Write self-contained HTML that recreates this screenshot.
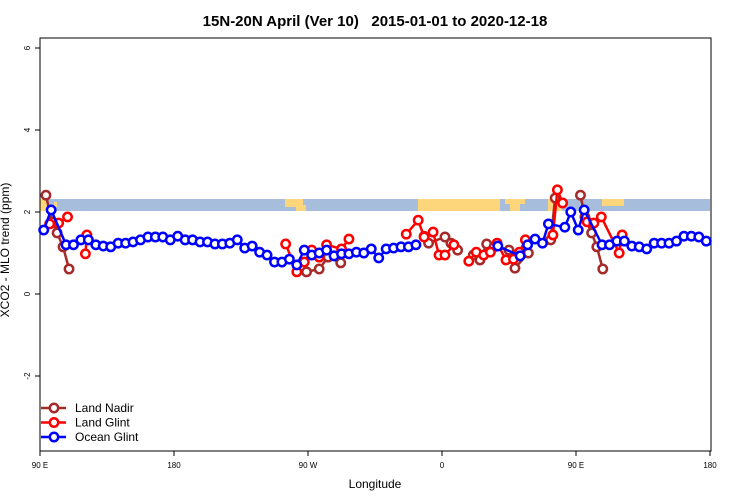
<!DOCTYPE html>
<html><head><meta charset="utf-8"><style>
body{margin:0;background:#fff}
svg{display:block;font-family:"Liberation Sans",sans-serif}
</style></head><body>
<svg id="chart" width="750" height="500">
<text x="375" y="26" text-anchor="middle" font-size="15" font-weight="bold" style="white-space:pre">15N-20N April (Ver 10)   2015-01-01 to 2020-12-18</text>
<g id="band">
<rect x="40" y="199" width="670" height="12" fill="#a6bddb"/>
<rect x="40" y="199" width="8" height="12" fill="#fdd57a"/>
<rect x="54" y="202" width="3" height="5" fill="#fdd57a"/>
<rect x="285" y="199" width="18" height="8" fill="#fdd57a"/>
<rect x="296" y="205" width="10" height="6" fill="#fdd57a"/>
<rect x="418" y="199" width="82" height="12" fill="#fdd57a"/>
<rect x="505" y="199" width="20" height="5" fill="#fdd57a"/>
<rect x="510" y="204" width="10" height="7" fill="#fdd57a"/>
<rect x="548" y="199" width="14" height="12" fill="#fdd57a"/>
<rect x="602" y="199" width="22" height="7" fill="#fdd57a"/>
</g>
<rect x="40" y="38" width="671" height="413" fill="none" stroke="#000" stroke-width="1"/>
<g id="axes"></g>
<g id="marks"></g>
<text x="375" y="488" text-anchor="middle" font-size="12">Longitude</text>
<text transform="translate(9,250) rotate(-90)" text-anchor="middle" font-size="12">XCO2 - MLO trend (ppm)</text>
<g id="legend"></g>
</svg>
<script>
const xTicks=[90,180,270,360,450,540];
const xTickLabels=["90 E","180","90 W","0","90 E","180"];
const yTicks=[6,4,2,0,-2];
// null value = line break
const oceanLon=[92.5,97.5,107.5,112.5,117.5,122.5,127.5,132.5,137.5,142.5,147.5,152.5,157.5,162.5,167.5,172.5,177.5,182.5,187.5,192.5,197.5,202.5,207.5,212.5,217.5,222.5,227.5,232.5,237.5,242.5,247.5,252.5,257.5,262.5,267.5,272.5,277.5,282.5,287.5,292.5,297.5,302.5,307.5,312.5,317.5,322.5,327.5,332.5,337.5,342.5,null,397.5,412.5,417.5,422.5,427.5,431.5,442.5,446.5,451.5,455.5,467.5,472.5,477.5,482.5,487.5,492.5,497.5,502.5,507.5,512.5,517.5,522.5,527.5,532.5,537.5];
const oceanVal=[1.56,2.05,1.2,1.2,1.32,1.32,1.2,1.17,1.15,1.24,1.24,1.27,1.32,1.39,1.39,1.39,1.32,1.41,1.32,1.32,1.27,1.27,1.22,1.22,1.24,1.32,1.12,1.17,1.02,0.95,0.78,0.78,0.85,0.71,1.07,0.95,1.0,1.07,0.93,0.98,0.98,1.02,1.0,1.1,0.88,1.1,1.12,1.15,1.15,1.2,null,1.17,0.93,1.2,1.34,1.24,1.71,1.63,2.0,1.56,2.05,1.2,1.2,1.29,1.29,1.17,1.15,1.1,1.24,1.24,1.24,1.29,1.41,1.41,1.39,1.29];
const glintLon=[96.5,102.5,108.5,null,120.5,121.5,null,255,262.5,267.5,272.5,277.5,282.5,292.5,297.5,null,336,344,348,354,358,362,368,null,378,383,388,392.5,397,403,408,412,416,null,434.5,437.5,441,null,457.5,462,467,479,481];
const glintVal=[1.71,1.73,1.88,null,0.98,1.44,null,1.22,0.54,0.78,1.07,0.9,1.2,1.1,1.34,null,1.46,1.8,1.39,1.51,0.95,0.95,1.2,null,0.8,1.02,0.95,1.02,1.24,0.83,0.85,1.02,1.32,null,1.44,2.54,2.22,null,1.76,1.73,1.88,1.0,1.44];
const nadirLon=[94,98,101.5,105.5,109.5,null,269,277.5,283.5,292,null,348,351,362,366,370.5,null,381,385.5,390,395,405,409,418,null,433,436,null,453,456,460.5,464,468];
const nadirVal=[2.41,1.76,1.49,1.15,0.61,null,0.54,0.61,0.9,0.76,null,1.41,1.24,1.39,1.24,1.07,null,0.95,0.83,1.22,1.15,1.07,0.63,1.0,null,1.32,2.34,null,2.41,1.88,1.49,1.15,0.61];

const NS="http://www.w3.org/2000/svg";
const X=l=>40+(l-90)*(670/450);
const Y=v=>294-41*v;
function mk(t,a,p){const e=document.createElementNS(NS,t);for(const k in a)e.setAttribute(k,a[k]);p.appendChild(e);return e;}
const axes=document.getElementById('axes');
xTicks.forEach((t,i)=>{
  const l=mk('line',{x1:X(t),x2:X(t),y1:451,y2:456,stroke:'#000'},axes);
  
  
  const tx=mk('text',{x:X(t),y:468,'text-anchor':'middle','font-size':8},axes);
  tx.textContent=xTickLabels[i];
  
  
});
yTicks.forEach(t=>{
  const l=mk('line',{x1:35,x2:40,y1:Y(t),y2:Y(t),stroke:'#000'},axes);
  
  
  const tx=mk('text',{transform:`translate(30,${Y(t)}) rotate(-90)`,'text-anchor':'middle','font-size':8},axes);
  tx.textContent=String(t);
  
  
});
const marks=document.getElementById('marks');
function series(lon,val,col,name){
  const g=mk('g',{},marks);
  
  
  let seg=[];const segs=[];
  lon.forEach((l,i)=>{if(l===null||val[i]===null){if(seg.length)segs.push(seg);seg=[];}else seg.push([X(l),Y(val[i])]);});
  if(seg.length)segs.push(seg);
  segs.forEach(s=>{const p=mk('polyline',{points:s.map(q=>q.join(',')).join(' '),fill:'none',stroke:col,'stroke-width':2.5},g);
    
    });
  segs.forEach(s=>s.forEach(q=>{const c=mk('circle',{cx:q[0],cy:q[1],r:4.2,fill:'#fff',stroke:col,'stroke-width':2.5},g);
    
    }));
}
series(nadirLon,nadirVal,'#a52a2a','land-nadir');
series(glintLon,glintVal,'#ff0000','land-glint');
series(oceanLon,oceanVal,'#0000ff','ocean-glint');
const leg=document.getElementById('legend');
[['Land Nadir','#a52a2a'],['Land Glint','#ff0000'],['Ocean Glint','#0000ff']].forEach((e,i)=>{
  const y=408+i*14.5;
  const g=mk('g',{},leg);
  
  
  mk('line',{x1:41,x2:66,y1:y,y2:y,stroke:e[1],'stroke-width':2.5},g);
  mk('circle',{cx:54,cy:y,r:4.2,fill:'#fff',stroke:e[1],'stroke-width':2.5},g);
  const t=mk('text',{x:75,y:y+4,'font-size':12},g);t.textContent=e[0];
});
</script>
</body></html>
